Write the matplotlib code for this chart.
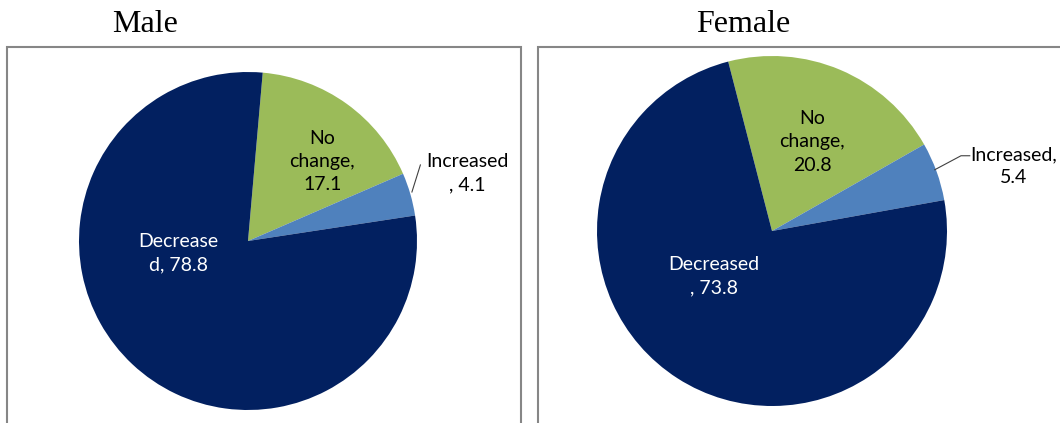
import matplotlib.pyplot as plt
from matplotlib.patches import Rectangle

# data
categories = ["No change", "Increased", "Decreased"]
male_values = [17.1, 4.1, 78.8]
female_values = [20.8, 5.4, 73.8]
colors = ["#9BBB59", "#4F81BD", "#022060"]

W, H = 1060, 423
LABEL_FONT = ["Lato", "DejaVu Sans"]


def px_axes(fig, cx, cy, r):
    # axes square around a pie centre given in pixel coords (top-left origin)
    return fig.add_axes([(cx - r) / W, (H - cy - r) / H, 2 * r / W, 2 * r / H])


def draw_pie(ax, values, start, labels):
    wedges, _ = ax.pie(values, colors=colors, startangle=start, counterclock=False,
                       radius=1, wedgeprops=dict(linewidth=0))
    ax.set_xlim(-1, 1)
    ax.set_ylim(-1, 1)
    ax.set_aspect("auto")
    ax.axis("off")
    for (txt, x, y, c) in labels:
        ax.text(x, y, txt, ha="center", va="center", color=c, fontsize=14,
                family=LABEL_FONT, linespacing=1.45, clip_on=False)
    return wedges


fig = plt.figure(figsize=(W / 100, H / 100), dpi=100)

# panel boxes
fig.patches.append(Rectangle((7 / W, -0.1), (521 - 7) / W, 1.1 - 47 / H,
                             transform=fig.transFigure, fill=False,
                             edgecolor="#868686", linewidth=1.5))
fig.patches.append(Rectangle((538 / W, -0.1), 0.6, 1.1 - 47 / H,
                             transform=fig.transFigure, fill=False,
                             edgecolor="#868686", linewidth=1.5))

fig.text(145 / W, 1 - 24 / H, "Male", ha="center", va="center",
         fontsize=23, family="Liberation Serif")
fig.text(743 / W, 1 - 24 / H, "Female", ha="center", va="center",
         fontsize=23, family="Liberation Serif")

ax_m = px_axes(fig, 248, 241, 169)
draw_pie(ax_m, male_values, 85, [
    (f"No\nchange,\n{male_values[0]}", 0.44, 0.47, "black"),
    (f"Increased\n, {male_values[1]}", 1.30, 0.40, "black"),
    (f"Decrease\nd, {male_values[2]}", -0.41, -0.07, "white"),
])
ax_m.plot([0.97, 1.02], [0.29, 0.45], color="#404040", lw=0.8, clip_on=False)

ax_f = px_axes(fig, 772, 231, 175)
draw_pie(ax_f, female_values, 104.5, [
    (f"No\nchange,\n{female_values[0]}", 0.23, 0.51, "black"),
    (f"Increased,\n{female_values[1]}", 1.38, 0.37, "black"),
    (f"Decreased\n, {female_values[2]}", -0.33, -0.26, "white"),
])
ax_f.plot([0.93, 1.08, 1.13], [0.35, 0.43, 0.43], color="#404040", lw=0.8,
          clip_on=False)

fig.savefig("out.png", dpi=100)
